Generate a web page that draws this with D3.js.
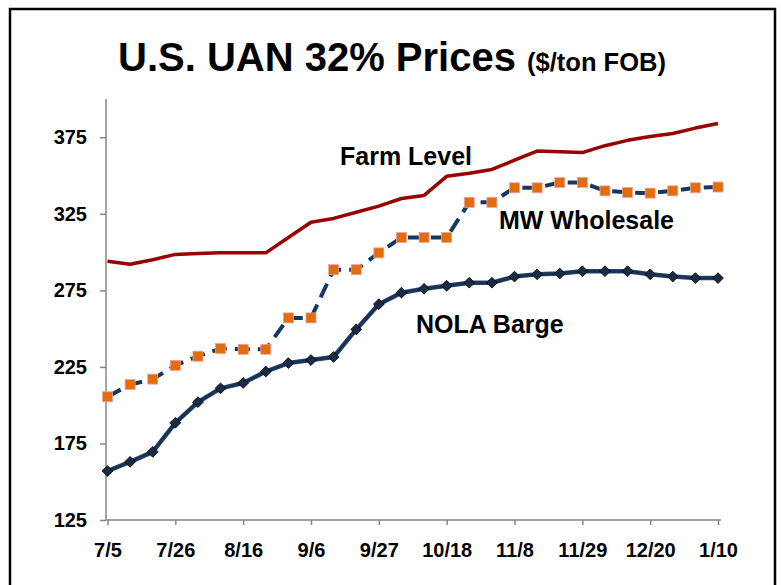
<!DOCTYPE html>
<html>
<head>
<meta charset="utf-8">
<script src="https://cdn.jsdelivr.net/npm/d3@7"></script>
<style>
    body { margin: 0; background: #fff; }
    text { font-family: "Liberation Sans", Arial, sans-serif; font-weight: bold; fill: #000; }
</style>
</head>
<body>
<div id="grafico"></div>
<script>
var semanas = ["7/5", "7/12", "7/19", "7/26", "8/2", "8/9", "8/16", "8/23", "8/30", "9/6",
    "9/13", "9/20", "9/27", "10/4", "10/11", "10/18", "10/25", "11/1", "11/8", "11/15",
    "11/22", "11/29", "12/6", "12/13", "12/20", "12/27", "1/3", "1/10"];

var etiquetasX = ["7/5", "7/26", "8/16", "9/6", "9/27", "10/18", "11/8", "11/29", "12/20", "1/10"];
var etiquetasY = [125, 175, 225, 275, 325, 375];

var farmLevel = [294, 292, 295, 298.5, 299, 299.5, 299.5, 299.5, 309.5, 319.5,
    322, 326, 330, 335, 337, 349.5, 351.5, 354, 360, 366,
    365.5, 365, 369.5, 373, 375.5, 377.5, 381, 384];

var mwWholesale = [205.5, 213.5, 217, 226, 232, 237, 236.5, 236.5, 257, 257,
    288.5, 288.5, 299.5, 309.5, 309.5, 309.5, 332.5, 332.5, 342, 342,
    345.5, 345.5, 340, 339, 338.5, 340, 342, 342.5];

var nolaBarge = [157, 163, 169.5, 188.5, 202, 211, 214.5, 222, 227.5, 229.5,
    231.5, 249.5, 266, 273.5, 276, 278, 280, 280, 284, 285.5,
    286, 287.5, 287.5, 287.5, 285.5, 284, 283, 283];

var w = 781, h = 585;

var svg = d3.select("#grafico").append("svg")
    .attr("width", w)
    .attr("height", h);

// marco negro
svg.append("rect")
    .attr("x", 10).attr("y", 9)
    .attr("width", 765).attr("height", 600)
    .attr("fill", "none")
    .attr("stroke", "#000")
    .attr("stroke-width", 2.5);

var x = d3.scalePoint()
    .domain(semanas)
    .range([107.5, 718]);

var y = d3.scaleLinear()
    .domain([125, 400])
    .range([520, 99]);

// titulo
var titulo = svg.append("text")
    .attr("x", 118)
    .attr("y", 71)
    .style("font-size", "40px");
titulo.append("tspan").text("U.S. UAN 32% Prices ");
titulo.append("tspan").style("font-size", "25.5px").text("($/ton FOB)");

// ejes
var ejeY = svg.append("g")
    .attr("transform", "translate(106,0)")
    .call(d3.axisLeft(y).tickValues(etiquetasY).tickSize(6).tickPadding(13));

var ejeX = svg.append("g")
    .attr("transform", "translate(0,520)")
    .call(d3.axisBottom(x).tickValues(etiquetasX).tickSize(5).tickPadding(18));

ejeY.select(".domain").attr("d", "M0,99V520");
ejeX.select(".domain").attr("d", "M106,0H721");

[ejeY, ejeX].forEach(function(eje) {
    eje.selectAll(".domain, .tick line")
        .attr("stroke", "#868686")
        .attr("stroke-width", 1.5);
    eje.selectAll(".tick text")
        .style("font-size", "20px")
        .style("font-family", "'Liberation Sans', Arial, sans-serif")
        .style("font-weight", "bold")
        .attr("fill", "#000");
});

var linea = function(valores) {
    return d3.line()
        .x(function(d, i) { return x(semanas[i]); })
        .y(function(d) { return y(d); })(valores);
};

// Farm Level
svg.append("path")
    .attr("d", linea(farmLevel))
    .attr("fill", "none")
    .attr("stroke", "#990000")
    .attr("stroke-width", 3.5)
    .attr("stroke-linejoin", "round");

// MW Wholesale
svg.append("path")
    .attr("d", linea(mwWholesale))
    .attr("fill", "none")
    .attr("stroke", "#17375E")
    .attr("stroke-width", 4)
    .attr("stroke-dasharray", "15,8");

svg.selectAll(".cuadro")
    .data(mwWholesale)
    .enter().append("rect")
    .attr("class", "cuadro")
    .attr("x", function(d, i) { return x(semanas[i]) - 5; })
    .attr("y", function(d) { return y(d) - 5; })
    .attr("width", 10)
    .attr("height", 10)
    .attr("fill", "#E46C0A")
    .attr("stroke", "#E6A3A3")
    .attr("stroke-width", 0.8);

// NOLA Barge
svg.append("path")
    .attr("d", linea(nolaBarge))
    .attr("fill", "none")
    .attr("stroke", "#254A78")
    .attr("stroke-width", 4.5)
    .attr("stroke-linejoin", "round");

svg.append("path")
    .attr("d", linea(nolaBarge))
    .attr("fill", "none")
    .attr("stroke", "#1B3252")
    .attr("stroke-width", 3)
    .attr("stroke-linejoin", "round");

var diamante = d3.symbol().type(d3.symbolSquare).size(58);

svg.selectAll(".diamante")
    .data(nolaBarge)
    .enter().append("path")
    .attr("class", "diamante")
    .attr("d", diamante)
    .attr("transform", function(d, i) {
        return "translate(" + x(semanas[i]) + "," + y(d) + ")rotate(45)";
    })
    .attr("fill", "#1A2C45")
    .attr("stroke", "#000")
    .attr("stroke-width", 0.8);

// etiquetas de series
svg.append("text").attr("x", 340).attr("y", 165).style("font-size", "25px").text("Farm Level");
svg.append("text").attr("x", 499).attr("y", 229).style("font-size", "25px").text("MW Wholesale");
svg.append("text").attr("x", 416).attr("y", 333).style("font-size", "25px").text("NOLA Barge");
</script>
</body>
</html>
